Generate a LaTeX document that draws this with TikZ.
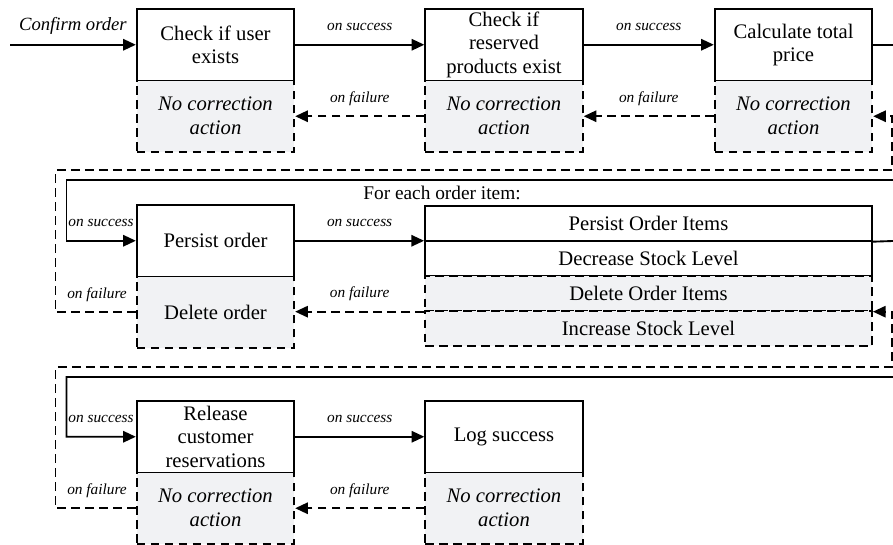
\documentclass[tikz,border=0pt]{standalone}
\usepackage{fontspec}
\setmainfont{Liberation Serif}
\usetikzlibrary{arrows.meta}
\definecolor{fillgray}{RGB}{241,242,244}
\begin{document}
\begin{tikzpicture}[x=0.75pt,y=-0.75pt,
  >={Triangle[length=9.5pt,width=8.5pt]},
  line width=1.4pt,
  dsh/.style={dash pattern=on 6.5pt off 4pt},
  okbox/.style={draw, fill=white, minimum width=118.1pt, minimum height=53.6pt, inner sep=1pt, align=center, font=\fontsize{15.5}{17.5}\selectfont},
  failbox/.style={okbox, dsh, fill=fillgray, font=\fontsize{15.5}{18}\selectfont\itshape},
  rowok/.style={draw, fill=white, minimum width=335.25pt, minimum height=26.25pt, inner sep=1pt, font=\fontsize{15.5}{18}\selectfont},
  rowfail/.style={rowok, dsh, fill=fillgray},
  lab/.style={font=\fontsize{11.5}{14}\selectfont\itshape, anchor=base, inner sep=0pt, yshift=10.5pt},
]
\useasboundingbox (0,0) rectangle (893,545);
\clip (0,0) rectangle (893,545);

% Row 1
\node[okbox] (c1) at (215.5,44.75) {Check if user\\exists};
\node[failbox] (f1) at (215.5,116.25) {No correction\\action};
\node[okbox] (c2) at (504,44.75) {Check if\\reserved\\products exist};
\node[failbox] (f2) at (504,116.25) {No correction\\action};
\node[okbox] (c3) at (793.5,44.75) {Calculate total\\price};
\node[failbox] (f3) at (793.5,116.25) {No correction\\action};

% Row 2
\node[okbox] (pers) at (215.5,240.75) {Persist order};
\node[failbox, font=\fontsize{15.5}{18}\selectfont] (del) at (215.5,312.25) {Delete order};
\node (each) at (442,193) [font=\fontsize{14.5}{17}\selectfont] {For each order item:};
\node[rowok] (items) at (648.5,223.25) {Persist Order Items};
\node[rowok] (dec) at (648.5,258.25) {Decrease Stock Level};
\node[rowfail] (dup) at (648.5,293.25) {Delete Order Items};
\node[rowfail] (inc) at (648.5,328.25) {Increase Stock Level};

% Row 3
\node[okbox] (rel) at (215.5,436.75) {Release\\customer\\reservations};
\node[failbox] (relf) at (215.5,508.25) {No correction\\action};
\node[okbox] (logs) at (504,436.75) {Log success};
\node[failbox] (logf) at (504,508.25) {No correction\\action};

% Input
\coordinate (start) at (10,44.75);
\draw[->] (start) -- (c1.west) node[lab, midway, font=\fontsize{14}{16}\selectfont\itshape] {Confirm order};

% Row 1 connectors
\draw[->] (c1.east) -- (c2.west) node[lab, midway] {on success};
\draw[->] (c2.east) -- (c3.west) node[lab, midway] {on success};
\draw[dsh,->] (f2.west) -- (f1.east) node[lab, midway] {on failure};
\draw[dsh,->] (f3.west) -- (f2.east) node[lab, midway] {on failure};

% Loop row1 -> row2
\draw[->] (c3.east) -- (900,44.75) -- (900,180) -- (66.5,180) |- (pers.west);
\node[lab] (ls2) at (101,240.75) {on success};
\draw[dsh,->] (del.west) -| (55.5,170) -- (892,170) |- (f3.east);
\node[lab] (lf2) at (97,312.25) {on failure};

% Row 2 connectors
\draw[->] (pers.east) -- (pers.east -| items.south west) node[lab, midway] {on success};
\draw[dsh,->] (dup.south west) -- (dup.south west -| del.east) node[lab, midway] {on failure};

% Loop row2 -> row3
\draw[->] (items.south east) -- (900,240.75) -- (900,377) -- (66.5,377) |- (rel.west);
\node[lab] (ls3) at (101,436.75) {on success};
\draw[dsh,->] (relf.west) -| (55.5,367) -- (892,367) |- (dup.south east);
\node[lab] (lf3) at (97,508.25) {on failure};

% Row 3 connectors
\draw[->] (rel.east) -- (logs.west) node[lab, midway] {on success};
\draw[dsh,->] (logf.west) -- (relf.east) node[lab, midway] {on failure};
\end{tikzpicture}
\end{document}
